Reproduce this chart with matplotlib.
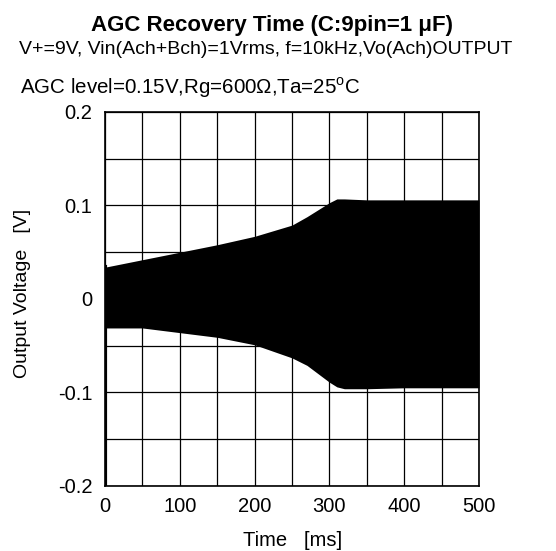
import matplotlib
matplotlib.use("Agg")
import matplotlib.pyplot as plt

plt.rcParams["font.family"] = ["Liberation Sans", "DejaVu Sans"]
plt.rcParams["mathtext.fontset"] = "custom"
plt.rcParams["mathtext.rm"] = "Liberation Sans"

# envelope of the output waveform
time_ms = [0, 25, 50, 100, 150, 200, 250, 270, 290, 300, 310, 320, 350, 400, 450, 500]
upper_v = [0.034, 0.038, 0.042, 0.050, 0.058, 0.067, 0.079, 0.088, 0.098, 0.103,
           0.107, 0.107, 0.106, 0.106, 0.106, 0.106]
lower_v = [-0.031, -0.031, -0.031, -0.036, -0.041, -0.049, -0.063, -0.071, -0.083,
           -0.089, -0.094, -0.096, -0.096, -0.095, -0.095, -0.095]
# start-up transient at t=0
spike_t = [0, 0]
spike_v = [0.034, -0.2]

x_ticks = [0, 100, 200, 300, 400, 500]
y_ticks = [-0.2, -0.1, 0, 0.1, 0.2]
y_labels = ["-0.2", "-0.1", "0", "0.1", "0.2"]

fig = plt.figure(figsize=(5.56, 5.51), dpi=100)
ax = fig.add_axes([0.1888, 0.118, 0.6727, 0.6788])

ax.fill_between(time_ms, lower_v, upper_v, color="black", linewidth=0)
ax.plot(spike_t, spike_v, color="black", linewidth=3)

ax.set_xlim(0, 500)
ax.set_ylim(-0.2, 0.2)
ax.set_xticks(x_ticks)
ax.set_xticks(range(0, 501, 50), minor=True)
ax.set_yticks(y_ticks)
ax.set_yticklabels(y_labels)
ax.set_yticks([-0.2 + 0.05 * i for i in range(9)], minor=True)
ax.grid(which="both", color="black", linewidth=0.9)
ax.set_axisbelow(False)
ax.tick_params(which="both", direction="in", length=0, labelsize=14.5)
ax.tick_params(axis="x", pad=8)
ax.tick_params(axis="y", pad=9)
for sp in ax.spines.values():
    sp.set_linewidth(1.2)

fig.text(293 / 556, 1 - 540 / 551, "Time   [ms]", ha="center", va="center", fontsize=14.5)
fig.text(23 / 556, 1 - 293 / 551, "Output Voltage   [V]", ha="center", va="center",
         rotation=90, fontsize=14)

fig.text(272 / 556, 1 - 25 / 551, "AGC Recovery Time (C:9pin=1 μF)",
         ha="center", va="center", fontsize=16, fontweight="bold")
fig.text(266 / 556, 1 - 49 / 551, "V+=9V, Vin(Ach+Bch)=1Vrms, f=10kHz,Vo(Ach)OUTPUT",
         ha="center", va="center", fontsize=14)
fig.text(20 / 556, 1 - 88 / 551, r"AGC level=0.15V,Rg=600Ω,Ta=25$^{\rm o}$C",
         ha="left", va="center", fontsize=14.8)

fig.savefig("out.png", dpi=100)
